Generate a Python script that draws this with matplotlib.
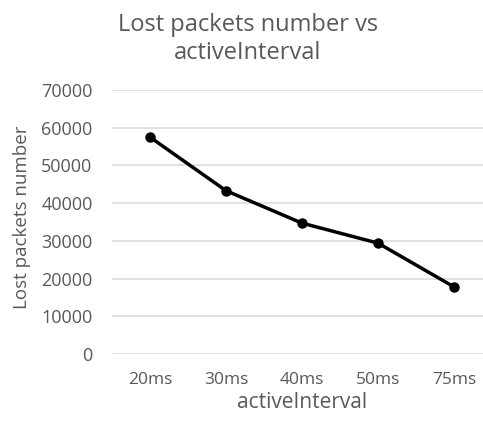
import matplotlib
matplotlib.use("Agg")
import matplotlib.pyplot as plt

categories = ["20ms", "30ms", "40ms", "50ms", "75ms"]
lost_packets = [57500, 43300, 34700, 29400, 17800]
y_ticks = [0, 10000, 20000, 30000, 40000, 50000, 60000, 70000]

plt.rcParams['font.family'] = ['Open Sans', 'DejaVu Sans']
gray = "#595959"

fig = plt.figure(figsize=(4.83, 4.21), dpi=100)
ax = fig.add_axes([112/483, 67/421, 380/483, 264/421])
x = list(range(len(categories)))
ax.plot(x, lost_packets, color="black", lw=2.5, marker="o", markersize=6.5, zorder=3)
ax.set_xlim(-0.5, len(categories) - 0.5)
ax.set_ylim(0, 70000)
ax.set_yticks(y_ticks)
ax.set_yticklabels([str(v) for v in y_ticks])
ax.set_xticks(x)
ax.set_xticklabels(categories)
ax.grid(axis="y", color="#d9d9d9", lw=1.1)
ax.set_axisbelow(True)
for s in ax.spines.values():
    s.set_visible(False)
ax.tick_params(axis="y", length=0, colors=gray, labelsize=13, pad=14)
ax.tick_params(axis="x", length=0, colors=gray, labelsize=12.5, pad=13)
ax.set_xlabel("activeInterval", color=gray, fontsize=15, labelpad=3)
fig.text(22/483, 1 - 217/421, "Lost packets number", rotation=90, color=gray,
         fontsize=13.5, ha="center", va="center")
fig.text(248/483, 1 - 39/421, "Lost packets number vs\nactiveInterval", color=gray,
         fontsize=17, ha="center", va="center", linespacing=1.2)
fig.savefig("out.png", dpi=100)
